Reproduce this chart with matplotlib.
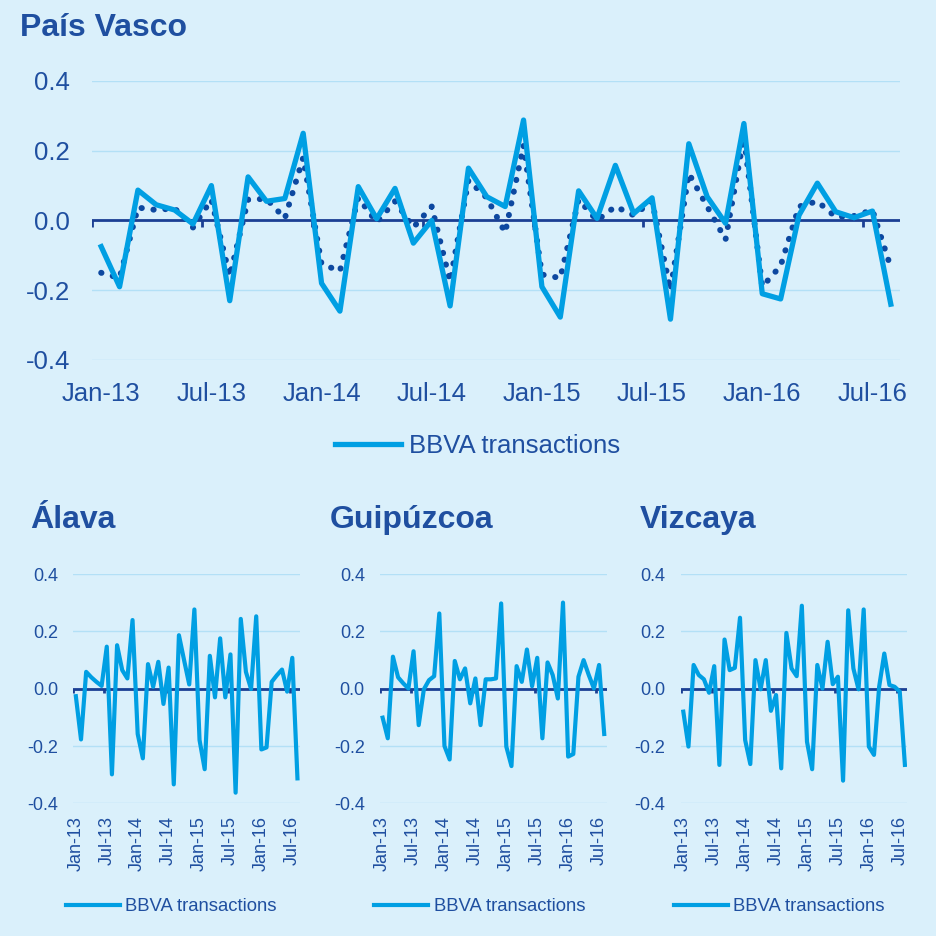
import numpy as np
import pandas as pd
import matplotlib
matplotlib.use('Agg')
import matplotlib.pyplot as plt

plt.rcParams['font.family'] = ['Liberation Sans', 'DejaVu Sans']
plt.rcParams['axes.unicode_minus'] = False

# datos (variación mensual, Jan-13 .. Aug-16)
months = pd.date_range('2013-01-01', periods=44, freq='MS')
tick_labels = ['Jan-13', 'Jul-13', 'Jan-14', 'Jul-14', 'Jan-15', 'Jul-15', 'Jan-16', 'Jul-16']
y_ticks = [-0.4, -0.2, 0.0, 0.2, 0.4]

pv_bbva = [-0.075, -0.19, 0.087, 0.045, 0.03, -0.01, 0.10, -0.23, 0.125, 0.055,
           0.063, 0.25, -0.18, -0.26, 0.097, 0.005, 0.092, -0.065, 0.0, -0.245,
           0.15, 0.068, 0.04, 0.288, -0.19, -0.277, 0.085, 0.006, 0.158, 0.02,
           0.065, -0.283, 0.22, 0.068, -0.008, 0.278, -0.21, -0.225, 0.015, 0.107,
           0.025, 0.008, 0.027, -0.24]
pv_official = [-0.15, -0.165, 0.037, 0.03, 0.035, -0.02, 0.06, -0.16, 0.06, 0.062,
               0.006, 0.18, -0.125, -0.145, 0.065, -0.005, 0.055, -0.02, 0.04, -0.175,
               0.115, 0.065, -0.035, 0.215, -0.155, -0.165, 0.06, 0.0, 0.04, 0.015,
               0.055, -0.2, 0.135, 0.04, -0.055, 0.24, -0.19, -0.13, 0.04, 0.055,
               0.01, 0.013, 0.03, -0.135]
alava = [-0.026, -0.177, 0.059, 0.04, 0.024, 0.01, 0.147, -0.299, 0.152, 0.065,
         0.036, 0.24, -0.158, -0.243, 0.086, 0.007, 0.094, -0.053, 0.074, -0.334,
         0.187, 0.1, 0.015, 0.277, -0.179, -0.281, 0.115, -0.03, 0.176, -0.03,
         0.12, -0.363, 0.244, 0.059, -0.001, 0.253, -0.212, -0.205, 0.024, 0.047,
         0.067, -0.01, 0.108, -0.313]
guipuzcoa = [-0.101, -0.173, 0.112, 0.04, 0.019, 0.001, 0.131, -0.127, -0.002, 0.03,
             0.044, 0.263, -0.2, -0.247, 0.097, 0.033, 0.071, -0.051, 0.036, -0.127,
             0.033, 0.033, 0.036, 0.298, -0.202, -0.27, 0.079, 0.024, 0.137, 0.009,
             0.108, -0.173, 0.092, 0.048, -0.034, 0.301, -0.237, -0.228, 0.042, 0.1,
             0.048, 0.001, 0.083, -0.158]
vizcaya = [-0.08, -0.202, 0.083, 0.048, 0.033, -0.014, 0.079, -0.266, 0.172, 0.065,
           0.073, 0.248, -0.179, -0.263, 0.1, -0.002, 0.1, -0.077, -0.022, -0.278,
           0.195, 0.071, 0.044, 0.29, -0.185, -0.281, 0.083, 0.001, 0.164, 0.016,
           0.042, -0.321, 0.274, 0.071, -0.002, 0.277, -0.202, -0.231, 0.007, 0.123,
           0.013, 0.007, -0.01, -0.266]

# colores
bg = '#daf0fb'
grid_c = '#b3e0f6'
navy = '#1b3f93'
text_c = '#1f4fa0'
light = '#009fe3'
dark = '#0d48a0'

n = len(months)
x = np.arange(n)

fig = plt.figure(figsize=(9.37, 9.36), dpi=100)
fig.patch.set_facecolor(bg)


def style_axis(ax, fs, ypad, xpad, rot, tick_len):
    ax.set_facecolor(bg)
    ax.set_xlim(-0.5, n - 0.5)
    ax.set_ylim(-0.4, 0.4)
    ax.set_yticks(y_ticks)
    ax.set_yticklabels([f'{v:.1f}' for v in y_ticks])
    ax.set_xticks(x[::6])
    ax.set_xticklabels(tick_labels, rotation=rot)
    ax.grid(axis='y', color=grid_c, lw=1)
    ax.set_axisbelow(True)
    for s in ax.spines.values():
        s.set_visible(False)
    ax.tick_params(axis='both', length=0, colors=text_c, labelsize=fs)
    ax.tick_params(axis='y', pad=ypad)
    ax.tick_params(axis='x', pad=xpad)
    ax.axhline(0, color=navy, lw=2, zorder=2)
    ax.vlines(x[::6] - 0.5, -tick_len, 0, color=navy, lw=2, zorder=2)


# panel principal
ax = fig.add_axes([0.0982, 0.6154, 0.8623, 0.2981])
style_axis(ax, 18.5, 16, 16, 0, 0.018)
ax.plot(x, pv_official, color=dark, lw=4.3, dashes=(0.05, 1.95),
        dash_capstyle='round', zorder=3)
solid, = ax.plot(x, pv_bbva, color=light, lw=3.8, zorder=4)
ax.legend([solid], ['BBVA transactions'], loc='center',
          bbox_to_anchor=(0.5096, 0.5235), bbox_transform=fig.transFigure,
          frameon=False, fontsize=18.5, handlelength=2.6, handletextpad=0.3,
          labelcolor=text_c)
fig.text(0.021, 0.97, 'País Vasco', fontsize=23, fontweight='bold',
         color=text_c, va='center', ha='left')

# paneles provinciales
panels = [('Álava', alava, 0.0782, 0.032, 0.183),
          ('Guipúzcoa', guipuzcoa, 0.4056, 0.352, 0.512),
          ('Vizcaya', vizcaya, 0.7265, 0.683, 0.832)]
for name, vals, left, tx, lx in panels:
    a = fig.add_axes([left, 0.1418, 0.242, 0.2447])
    style_axis(a, 13, 11, 9, 90, 0.014)
    ln, = a.plot(x, vals, color=light, lw=3, zorder=4)
    a.legend([ln], ['BBVA transactions'], loc='center',
             bbox_to_anchor=(lx, 0.031), bbox_transform=fig.transFigure,
             frameon=False, fontsize=13.3, handlelength=2.9, handletextpad=0.3,
             labelcolor=text_c)
    fig.text(tx, 0.444, name, fontsize=23, fontweight='bold',
             color=text_c, va='center', ha='left')

plt.savefig('out.png', dpi=100, facecolor=bg)
